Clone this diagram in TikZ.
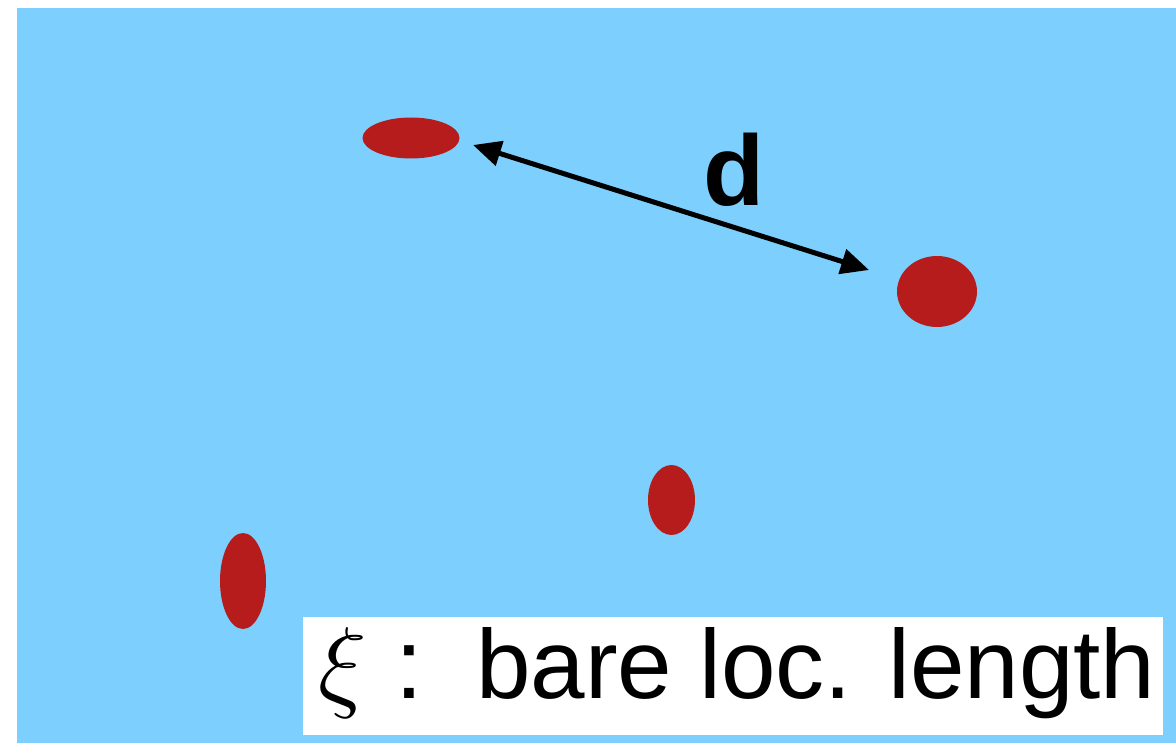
\RequirePackage{fix-cm}
\documentclass[tikz,border=0pt]{standalone}
\usepackage{fontspec}
\setmainfont{Liberation Sans}
\usetikzlibrary{shapes.geometric,arrows.meta}
\definecolor{bgblue}{RGB}{125,208,254}
\definecolor{dotred}{RGB}{183,28,28}
\tikzset{
  dot/.style={ellipse, fill=dotred, draw=none, inner sep=0pt},
  big/.style={font=\fontsize{100}{120}\selectfont, inner sep=0pt, text=black},
  dist/.style={line width=5pt, {Triangle[length=28pt,width=25pt]}-{Triangle[length=28pt,width=25pt]}}
}
\begin{document}
\begin{tikzpicture}[x=1pt,y=-1pt]
\useasboundingbox (0,0) rectangle (1176,743);
\fill[bgblue] (17,8) rectangle (1176,743);
\fill[white] (303,617) rectangle (1163,735);
\node[dot, minimum width=97pt, minimum height=41pt] (e1) at (411,138) {};
\node[dot, minimum width=80pt, minimum height=71pt] (e2) at (937,291.5) {};
\node[dot, minimum width=47pt, minimum height=70pt] (e3) at (671.5,500) {};
\node[dot, minimum width=46pt, minimum height=96pt] (e4) at (243,581) {};
\coordinate (a1) at (473,145);
\coordinate (a2) at (869,270);
\draw[dist] (a1) -- (a2);
\node[big, font=\fontsize{100}{120}\selectfont\bfseries, anchor=base west] (d) at (703,206) {d};
\node[big, font=\fontsize{102}{120}\selectfont, anchor=base west] (xi) at (318,698) {$\xi$};
\node[big, anchor=base west] (colon) at (395,698) {:};
\node[big, font=\fontsize{98}{118}\selectfont, anchor=base west] (lbl) at (476,698) {bare loc. length};
\end{tikzpicture}
\end{document}
